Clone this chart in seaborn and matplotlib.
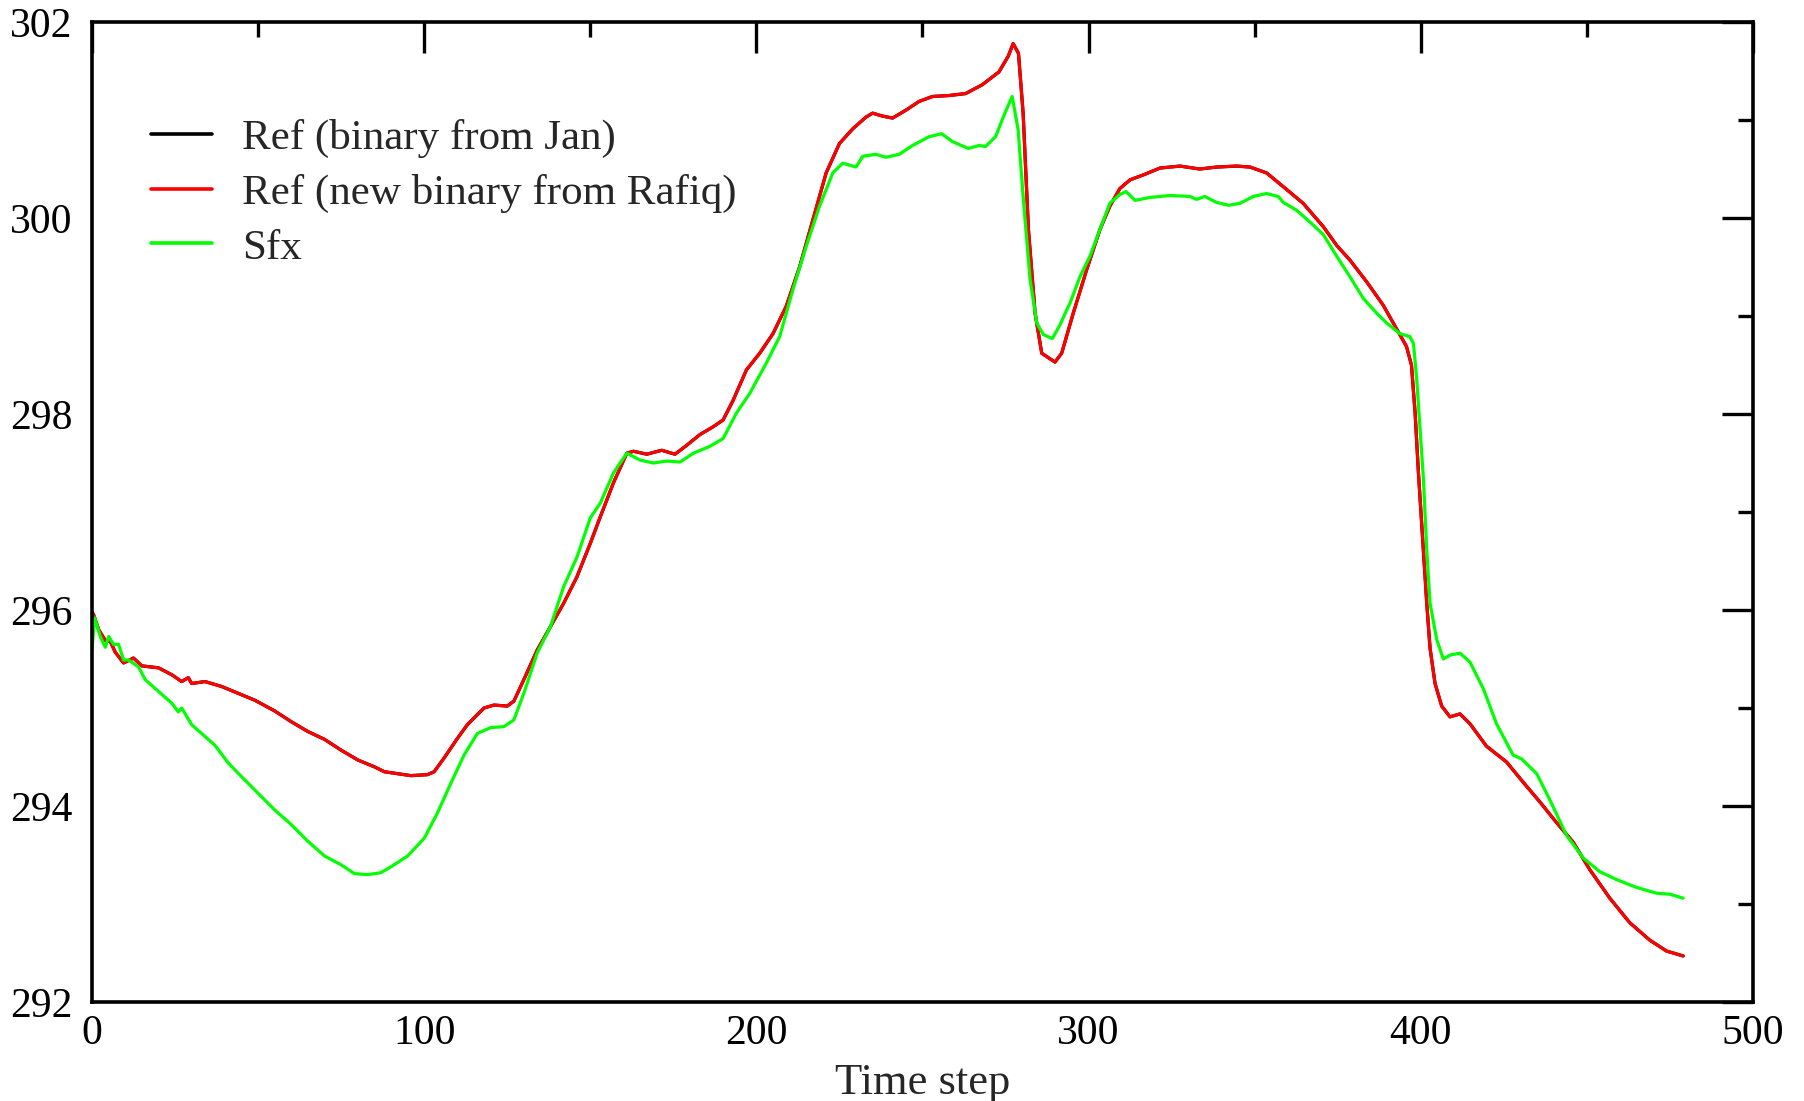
"""
Time series comparison: Ref (Jan binary), Ref (Rafiq binary) and Sfx.
"""

import matplotlib
matplotlib.use("Agg")
import matplotlib.pyplot as plt
from matplotlib.ticker import MultipleLocator
import seaborn as sns
import pandas as pd


# Values
ref_rafiq_x = [
    0, 0.5, 2, 4, 5.5, 7, 9.5, 12.5, 15, 20, 24, 27, 29, 30, 34, 39, 44, 49,
    55, 60, 65, 70, 75, 80, 85, 88, 92, 96, 101, 103, 106, 110, 113, 118, 121,
    125, 127, 130, 134, 138, 142, 146, 150, 153, 157, 161, 163, 167, 171.5,
    175.5, 179, 183, 187, 190, 193, 197, 201, 205, 209, 213, 217, 221, 225,
    229, 233, 235, 238, 241, 245, 249, 253, 258, 263, 268, 273, 275.8, 277.3,
    278.9, 280.3, 281.9, 283.9, 285.9, 289.9, 291.9, 295.4, 299.4, 303.4,
    306.4, 309.4, 312.5, 316.5, 321.5, 327.5, 333.5, 338.5, 344.6, 348.6,
    353.6, 358.6, 364.6, 370.7, 374.7, 378.7, 383.7, 388.7, 392.7, 395.7,
    397.2, 398.3, 399.3, 400.8, 401.8, 402.8, 404.3, 406.3, 408.8, 411.8,
    414.8, 419.8, 425.8, 430.9, 435.9, 440.9, 445.9, 450.9, 456.9, 462.9,
    469, 474, 479,
]
ref_rafiq_y = [
    295.98, 295.95, 295.80, 295.69, 295.68, 295.57, 295.46, 295.51, 295.43,
    295.41, 295.34, 295.27, 295.31, 295.25, 295.27, 295.22, 295.15, 295.08,
    294.97, 294.86, 294.76, 294.68, 294.57, 294.47, 294.40, 294.35, 294.33,
    294.31, 294.32, 294.35, 294.49, 294.69, 294.83, 295.00, 295.03, 295.02,
    295.07, 295.29, 295.59, 295.83, 296.07, 296.34, 296.68, 296.95, 297.30,
    297.60, 297.62, 297.59, 297.63, 297.59, 297.68, 297.79, 297.87, 297.94,
    298.14, 298.45, 298.62, 298.82, 299.10, 299.50, 299.98, 300.46, 300.76,
    300.91, 301.03, 301.07, 301.04, 301.02, 301.10, 301.19, 301.24, 301.25,
    301.27, 301.36, 301.49, 301.65, 301.78, 301.68, 301.07, 299.88, 299.03,
    298.62, 298.53, 298.62, 299.03, 299.47, 299.88, 300.12, 300.30, 300.39,
    300.44, 300.51, 300.53, 300.50, 300.52, 300.53, 300.52, 300.46, 300.32,
    300.15, 299.91, 299.72, 299.57, 299.35, 299.11, 298.87, 298.69, 298.50,
    298.01, 297.40, 296.61, 296.07, 295.61, 295.25, 295.02, 294.91, 294.94,
    294.84, 294.61, 294.45, 294.24, 294.04, 293.83, 293.63, 293.35, 293.06,
    292.81, 292.63, 292.52, 292.47,
]

# the Jan binary gives the same curve; it is hidden under the red one
ref_jan_x = list(ref_rafiq_x)
ref_jan_y = list(ref_rafiq_y)

sfx_x = [
    0, 0.8, 2.5, 4, 5, 6.5, 8, 9.5, 11, 14, 16, 20, 24, 26, 27, 30, 33, 37,
    41, 45, 50, 55, 60, 65, 70, 75, 79, 83, 87, 90, 95, 100, 104, 108, 112,
    116, 120, 124, 127, 130, 134, 138, 142, 146, 150, 153, 157, 161, 165, 169,
    173, 177, 181, 186, 190, 194, 198, 203, 207, 211, 215, 219, 223, 226, 230,
    232, 236, 239, 243, 247, 252, 255.8, 259, 263.8, 267, 269, 272, 274.8,
    277, 278.8, 280.3, 282.4, 284.4, 286.4, 289.1, 291.4, 293.4, 294.4,
    297.4, 300.4, 303.4, 306.4, 309.4, 311.3, 314, 318.5, 324.5, 330.5,
    332.5, 335, 338.5, 342.1, 345.6, 349.6, 353.6, 357.1, 358.6, 362.6,
    366.6, 370.7, 374.7, 378.7, 382.7, 386.7, 389.7, 393.7, 396.7, 397.8,
    398.8, 399.8, 400.8, 401.8, 402.8, 404.8, 406.8, 408.8, 411.8, 414.8,
    418.8, 422.8, 427.8, 430.4, 434.9, 438.9, 443.9, 448.9, 453.9, 458.9,
    464.9, 471, 475, 479,
]
sfx_y = [
    295.60, 295.92, 295.73, 295.62, 295.73, 295.65, 295.65, 295.49, 295.49,
    295.42, 295.29, 295.17, 295.05, 294.96, 295.00, 294.83, 294.74, 294.62,
    294.44, 294.30, 294.13, 293.96, 293.81, 293.64, 293.49, 293.40, 293.31,
    293.30, 293.32, 293.38, 293.49, 293.67, 293.93, 294.23, 294.52, 294.74,
    294.80, 294.81, 294.88, 295.15, 295.56, 295.83, 296.24, 296.54, 296.94,
    297.09, 297.40, 297.60, 297.53, 297.50, 297.52, 297.51, 297.60, 297.67,
    297.75, 298.01, 298.21, 298.52, 298.79, 299.27, 299.71, 300.12, 300.46,
    300.56, 300.52, 300.63, 300.65, 300.62, 300.65, 300.74, 300.83, 300.86,
    300.78, 300.71, 300.74, 300.73, 300.83, 301.07, 301.24, 300.90, 300.22,
    299.37, 298.93, 298.81, 298.77, 298.91, 299.06, 299.13, 299.40, 299.61,
    299.88, 300.15, 300.24, 300.27, 300.18, 300.21, 300.23, 300.22, 300.19,
    300.22, 300.16, 300.13, 300.15, 300.22, 300.25, 300.22, 300.16, 300.08,
    299.96, 299.83, 299.61, 299.40, 299.18, 299.03, 298.93, 298.82, 298.79,
    298.72, 298.35, 297.84, 297.34, 296.61, 296.07, 295.70, 295.50, 295.54,
    295.56, 295.47, 295.20, 294.84, 294.52, 294.48, 294.33, 294.06, 293.70,
    293.47, 293.33, 293.25, 293.17, 293.11, 293.10, 293.06,
]

labels = ["Ref (binary from Jan)", "Ref (new binary from Rafiq)", "Sfx"]
colors = ["#000000", "#ff0000", "#00ff00"]

df = pd.concat([
    pd.DataFrame({"step": ref_jan_x, "value": ref_jan_y, "serie": labels[0]}),
    pd.DataFrame({"step": ref_rafiq_x, "value": ref_rafiq_y, "serie": labels[1]}),
    pd.DataFrame({"step": sfx_x, "value": sfx_y, "serie": labels[2]}),
], ignore_index=True)

sns.set_style("white")
plt.rcParams["font.family"] = ["Liberation Serif", "DejaVu Serif"]

fig = plt.figure(figsize=(18.04, 11.01), dpi=100)
ax = fig.add_axes([0.0510, 0.0899, 0.9207, 0.8901])

sns.lineplot(
    data=df, x="step", y="value", hue="serie",
    hue_order=labels, palette=colors,
    estimator=None, sort=False, linewidth=2.3, ax=ax,
)

ax.set_xlim(0, 500)
ax.set_ylim(292, 302)
ax.xaxis.set_major_locator(MultipleLocator(100))
ax.xaxis.set_minor_locator(MultipleLocator(50))
ax.yaxis.set_major_locator(MultipleLocator(2))
ax.yaxis.set_minor_locator(MultipleLocator(1))

ax.tick_params(which="both", direction="in", top=True, right=True,
               width=2.4, colors="black")
ax.tick_params(which="major", length=22, labelsize=30)
ax.tick_params(which="minor", length=11)
ax.tick_params(axis="y", which="major", pad=14)
ax.tick_params(axis="x", which="major", pad=9)

for sp in ax.spines.values():
    sp.set_linewidth(2.6)
    sp.set_color("black")

ax.set_xlabel("Time step", fontsize=32, labelpad=7)
ax.set_ylabel("")

# legend without frame, in the upper left corner
leg = ax.get_legend()
handles = leg.legend_handles
texts = [t.get_text() for t in leg.get_texts()]
leg.remove()
ax.legend(
    handles, texts, loc="upper left", bbox_to_anchor=(0.0355, 0.901),
    frameon=False, fontsize=31, handlelength=1.42, handletextpad=0.7,
    labelspacing=0.36, borderpad=0, borderaxespad=0,
)
for h in ax.get_legend().legend_handles:
    h.set_linewidth(2.6)

fig.savefig("out.png", dpi=100, facecolor="white")
